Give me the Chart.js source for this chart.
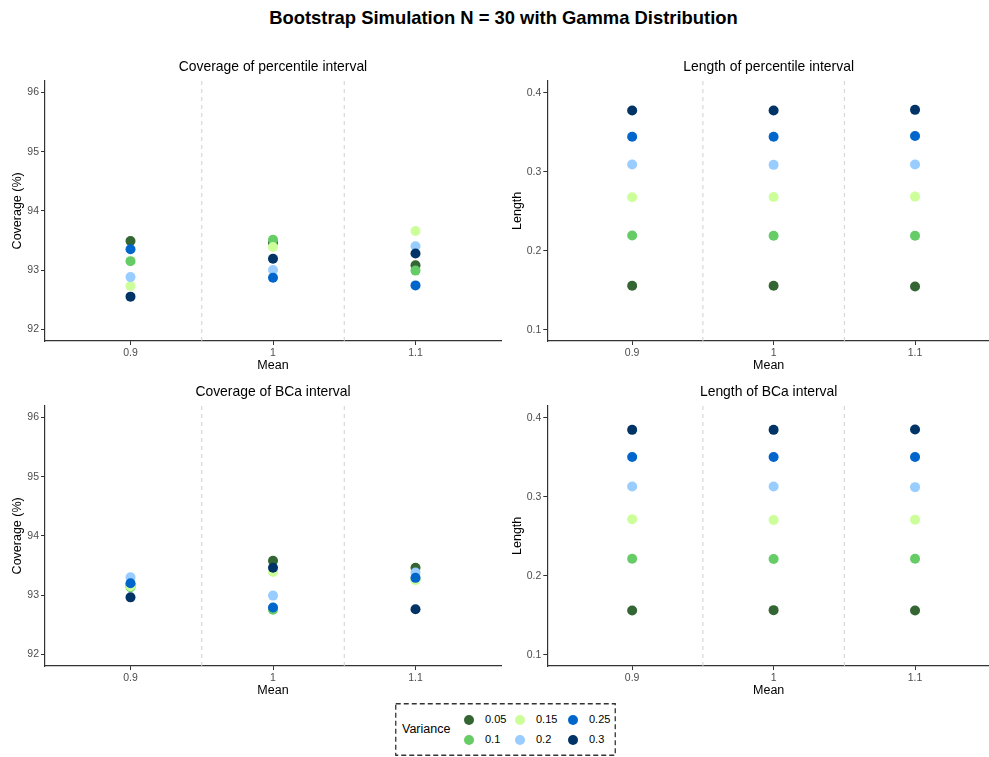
<!DOCTYPE html>
<html>
<head>
<meta charset="utf-8">
<script src="https://cdn.jsdelivr.net/npm/chart.js@4.4.0/dist/chart.umd.min.js"></script>
<style>
  body { margin: 0; background: #fff; font-family: "Liberation Sans", Arial, sans-serif; }
  #page { position: relative; width: 989px; height: 757px; overflow: hidden; }
  #mainTitle { position: absolute; left: 16px; top: 7px; width: 975px; text-align: center;
               font-weight: bold; font-size: 18.4px; color: #000; }
  .panel { position: absolute; height: 325px; }
  #legendBox { position: absolute; left: 395px; top: 703px; width: 221px; height: 53px; }
  #legendBox svg { position: absolute; left: 0; top: 0; }
  .lgTitle { position: absolute; left: 7px; top: 19px; font-size: 12.5px; color: #000; }
  .lgDot { position: absolute; width: 10px; height: 10px; border-radius: 50%; }
  .lgText { position: absolute; font-size: 11px; color: #000; }
</style>
</head>
<body>
<div id="page">
  <div id="mainTitle">Bootstrap Simulation N = 30 with Gamma Distribution</div>
  <div class="panel" style="left:0;top:50px;width:506px"><canvas id="c1"></canvas></div>
  <div class="panel" style="left:500px;top:50px;width:495px"><canvas id="c2"></canvas></div>
  <div class="panel" style="left:0;top:375px;width:506px"><canvas id="c3"></canvas></div>
  <div class="panel" style="left:500px;top:375px;width:495px"><canvas id="c4"></canvas></div>
  <div id="legendBox">
    <svg width="221" height="53"><rect x="0.75" y="0.75" width="219.5" height="51.5" fill="none" stroke="#333" stroke-width="1.3" stroke-dasharray="5,3"/></svg>
    <div class="lgTitle">Variance</div>
  </div>
</div>
<script>
// x categories (Mean) and colour groups (Variance)
const means = ['0.9', '1', '1.1'];
const variances = ['0.05', '0.1', '0.15', '0.2', '0.25', '0.3'];
const varColors = ['#336633', '#66CC66', '#CCFF99', '#99CCFF', '#0066CC', '#003366'];

// one row per variance, one value per mean
const coveragePercentile = [
  [93.49, 93.46, 93.08],
  [93.15, 93.51, 92.99],
  [92.73, 93.39, 93.66],
  [92.88, 93.00, 93.40],
  [93.35, 92.87, 92.74],
  [92.55, 93.19, 93.28]
];
const lengthPercentile = [
  [0.1556, 0.1556, 0.1547],
  [0.2193, 0.2189, 0.2189],
  [0.2675, 0.2680, 0.2684],
  [0.3090, 0.3086, 0.3090],
  [0.3442, 0.3442, 0.3451],
  [0.3774, 0.3774, 0.3782]
];
const coverageBCa = [
  [93.17, 93.58, 93.46],
  [93.13, 92.75, 93.27],
  [93.15, 93.39, 93.25],
  [93.30, 92.99, 93.38],
  [93.20, 92.79, 93.29],
  [92.96, 93.46, 92.76]
];
const lengthBCa = [
  [0.1560, 0.1564, 0.1560],
  [0.2214, 0.2210, 0.2214],
  [0.2713, 0.2704, 0.2709],
  [0.3128, 0.3128, 0.3120],
  [0.3501, 0.3501, 0.3501],
  [0.3845, 0.3845, 0.3849]
];

const coverageTicks = [92, 93, 94, 95, 96];
const lengthTicks = [0.1, 0.2, 0.3, 0.4];

const FONT = '"Liberation Sans", Arial, sans-serif';

function makePanel(id, title, yTitle, values, yMin, yMax, yTicks, xMax, yWidth, yTitlePad) {
  const datasets = [];
  // dashed separators between the mean groups
  for (let i = 1; i < means.length; i++) {
    datasets.push({
      type: 'line',
      data: [{x: i - 0.5, y: yMin}, {x: i - 0.5, y: yMax}],
      borderColor: '#d0d0d0',
      borderWidth: 1,
      borderDash: [4, 4],
      pointRadius: 0,
      order: 20
    });
  }
  values.forEach(function (row, v) {
    datasets.push({
      type: 'scatter',
      label: variances[v],
      data: row.map(function (y, i) { return {x: i, y: y}; }),
      backgroundColor: varColors[v],
      borderColor: varColors[v],
      borderWidth: 0,
      pointRadius: 5,
      order: variances.length - v
    });
  });

  new Chart(document.getElementById(id), {
    type: 'scatter',
    data: { datasets: datasets },
    options: {
      responsive: true,
      maintainAspectRatio: false,
      animation: false,
      layout: { padding: 0 },
      plugins: {
        legend: { display: false },
        tooltip: { enabled: false },
        title: {
          display: true,
          fullSize: false,
          text: title,
          color: '#000',
          font: { family: FONT, size: 13.9, weight: 'normal' },
          padding: { top: 9, bottom: 5 }
        }
      },
      scales: {
        x: {
          type: 'linear',
          min: -0.6,
          max: xMax,
          afterBuildTicks: function (s) { s.ticks = means.map(function (m, i) { return {value: i}; }); },
          afterFit: function (s) { s.height = 34; },
          ticks: {
            color: '#4d4d4d',
            font: { family: FONT, size: 10.5 },
            padding: 2,
            autoSkip: false,
            maxRotation: 0,
            callback: function (v) { return means[v]; }
          },
          grid: { display: true, drawOnChartArea: false, drawTicks: true, tickLength: 4, color: '#333' },
          border: { display: true, color: '#333', width: 1.2 },
          title: {
            display: true, text: 'Mean', color: '#000',
            font: { family: FONT, size: 12.5 },
            padding: { top: 0, bottom: 2 }
          }
        },
        y: {
          type: 'linear',
          min: yMin,
          max: yMax,
          afterBuildTicks: function (s) { s.ticks = yTicks.map(function (t) { return {value: t}; }); },
          afterFit: function (s) { s.width = yWidth; },
          ticks: {
            color: '#4d4d4d',
            font: { family: FONT, size: 10.5 },
            padding: 2,
            callback: function (v) { return String(v); }
          },
          grid: { display: true, drawOnChartArea: false, drawTicks: true, tickLength: 4, color: '#333' },
          border: { display: true, color: '#333', width: 1.2 },
          title: {
            display: true, text: yTitle, color: '#000',
            font: { family: FONT, size: 12.5 },
            padding: { top: yTitlePad, bottom: 0 }
          }
        }
      }
    }
  });
}

makePanel('c1', 'Coverage of percentile interval', 'Coverage (%)', coveragePercentile, 91.8, 96.2, coverageTicks, 2.6, 45, 10.5);
makePanel('c2', 'Length of percentile interval', 'Length', lengthPercentile, 0.0857, 0.4151, lengthTicks, 2.53, 47.3, 10);
makePanel('c3', 'Coverage of BCa interval', 'Coverage (%)', coverageBCa, 91.8, 96.2, coverageTicks, 2.6, 45, 10.5);
makePanel('c4', 'Length of BCa interval', 'Length', lengthBCa, 0.0857, 0.4151, lengthTicks, 2.53, 47.3, 10);

// legend: two rows, three columns, filled column by column
const box = document.getElementById('legendBox');
const colX = [74, 125, 178];
const rowY = [17, 37];
variances.forEach(function (v, i) {
  const col = Math.floor(i / 2), row = i % 2;
  const dot = document.createElement('div');
  dot.className = 'lgDot';
  dot.style.left = (colX[col] - 5) + 'px';
  dot.style.top = (rowY[row] - 5) + 'px';
  dot.style.background = varColors[i];
  box.appendChild(dot);
  const t = document.createElement('div');
  t.className = 'lgText';
  t.textContent = v;
  t.style.left = (colX[col] + 16) + 'px';
  t.style.top = (rowY[row] - 7) + 'px';
  box.appendChild(t);
});
</script>
</body>
</html>
